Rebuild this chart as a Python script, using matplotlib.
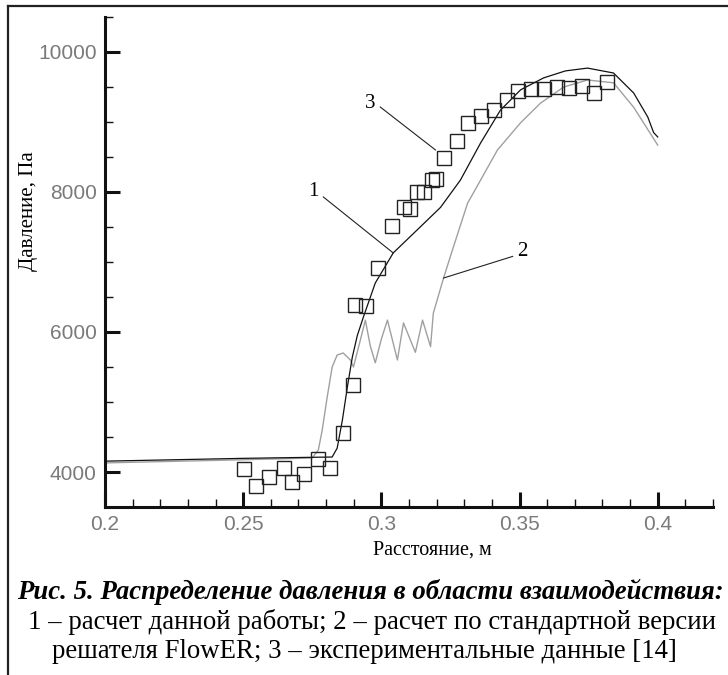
import matplotlib

matplotlib.use('Agg')
import matplotlib.pyplot as plt
from matplotlib.lines import Line2D
from matplotlib.ticker import MultipleLocator

# curve 1 - this work
x1 = [0.2, 0.25, 0.275, 0.2822, 0.284, 0.2859, 0.2877, 0.2895, 0.2913, 0.2935,
      0.2978, 0.3043, 0.313, 0.3214, 0.3286, 0.3359, 0.3431, 0.3504, 0.3587,
      0.3666, 0.3746, 0.384, 0.3913, 0.3964, 0.3985, 0.4]
y1 = [4155, 4195, 4210, 4214, 4340, 4743, 5214, 5643, 5950, 6214,
      6700, 7130, 7460, 7780, 8170, 8700, 9170, 9460, 9630,
      9730, 9770, 9700, 9414, 9071, 8850, 8786]

# curve 2 - standard FlowER
x2 = [0.2, 0.25, 0.275, 0.2772, 0.2786, 0.2804, 0.2822, 0.284, 0.2862, 0.2888,
      0.2899, 0.2924, 0.2942, 0.296, 0.2978, 0.3, 0.3022, 0.3058, 0.308, 0.3123,
      0.3149, 0.3178, 0.3188, 0.3225, 0.3257, 0.3312, 0.3359, 0.342, 0.3504,
      0.3576, 0.366, 0.3746, 0.384, 0.3913, 0.4]
y2 = [4130, 4175, 4200, 4314, 4600, 5071, 5500, 5671, 5700, 5600,
      5500, 5886, 6170, 5800, 5560, 5900, 6170, 5600, 6130, 5710,
      6170, 5790, 6270, 6770, 7170, 7840, 8170, 8600, 8990,
      9270, 9500, 9600, 9560, 9210, 8670]

# 3 - experiment [14]
x3 = [0.2504, 0.2547, 0.2594, 0.2649, 0.2678, 0.2721, 0.2772, 0.2815, 0.2862,
      0.2899, 0.2906, 0.2946, 0.2989, 0.304, 0.3083, 0.3105, 0.313, 0.3156,
      0.3185, 0.3196, 0.3225, 0.3272, 0.3315, 0.3362, 0.3406, 0.3453, 0.3496,
      0.3543, 0.3587, 0.3634, 0.3678, 0.3725, 0.3768, 0.3815]
y3 = [4043, 3800, 3929, 4057, 3857, 3971, 4186, 4057, 4557,
      5243, 6386, 6371, 6914, 7514, 7786, 7757, 8000, 8000,
      8171, 8186, 8486, 8729, 8986, 9086, 9171, 9314, 9443,
      9471, 9471, 9500, 9486, 9514, 9414, 9571]

W, H = 728, 675
fig = plt.figure(figsize=(W / 100, H / 100), dpi=100)
ax = fig.add_axes([105 / W, 1 - 507 / H, (713 - 105) / W, (507 - 17) / H])

ax.plot(x2, y2, color='#a0a0a0', lw=1.0)
ax.plot(x1, y1, color='#111111', lw=0.9)
ax.plot(x3, y3, ls='none', marker='s', ms=10.5, mfc='none', mec='#222222', mew=1.0)

# callouts
ax.plot([0.2996, 0.3196], [9214, 8600], color='#222222', lw=0.8)
ax.plot([0.279, 0.3043], [7929, 7129], color='#222222', lw=0.8)
ax.plot([0.3225, 0.3475], [6771, 7080], color='#222222', lw=0.8)
ax.text(0.296, 9271, '3', family='Liberation Serif', fontsize=15, ha='center', va='center')
ax.text(0.2754, 8000, '1', family='Liberation Serif', fontsize=15, ha='center', va='center')
ax.text(0.3511, 7150, '2', family='Liberation Serif', fontsize=15, ha='center', va='center')

ax.set_xlim(0.2, 0.42)
ax.set_ylim(3500, 10500)
ax.xaxis.set_minor_locator(MultipleLocator(0.01))
ax.yaxis.set_minor_locator(MultipleLocator(500))
ax.set_xticks([0.2, 0.25, 0.3, 0.35, 0.4])
ax.set_xticklabels(['0.2', '0.25', '0.3', '0.35', '0.4'])
ax.set_yticks([4000, 6000, 8000, 10000])
ax.set_yticklabels(['4000', '6000', '8000', '10000'])

for s in ['top', 'right']:
    ax.spines[s].set_visible(False)
for s in ['left', 'bottom']:
    ax.spines[s].set_linewidth(2.2)
    ax.spines[s].set_color('#111111')
ax.tick_params(which='major', direction='in', length=11, width=2.2, color='#111111',
               labelsize=15, labelcolor='#7a7a7a', pad=6)
ax.tick_params(which='minor', direction='in', length=6, width=1.0, color='#111111')
for lab in ax.get_xticklabels() + ax.get_yticklabels():
    lab.set_family('Liberation Sans')

fig.text(28 / W, 1 - 211 / H, 'Давление, Па', family='Liberation Serif', fontsize=15,
         rotation=90, ha='center', va='center')
fig.text(432 / W, 1 - 550 / H, 'Расстояние, м', family='Liberation Serif', fontsize=14.5,
         ha='center', va='center')

# caption
fig.text(370 / W, 1 - 592 / H, 'Рис. 5. Распределение давления в области взаимодействия:',
         family='Liberation Serif', fontsize=19.3, weight='bold', style='italic',
         ha='center', va='center')
fig.text(372 / W, 1 - 622 / H, '1 – расчет данной работы; 2 – расчет по стандартной версии',
         family='Liberation Serif', fontsize=19.3, ha='center', va='center')
fig.text(364 / W, 1 - 652 / H, 'решателя FlowER; 3 – экспериментальные данные [14]',
         family='Liberation Serif', fontsize=19.3, ha='center', va='center')

# outer frame
fig.add_artist(Line2D([8 / W, 1], [1 - 6 / H, 1 - 6 / H], color='#222222', lw=1.6))
fig.add_artist(Line2D([8 / W, 8 / W], [0, 1 - 6 / H], color='#222222', lw=1.6))

fig.savefig('out.png', dpi=100)
